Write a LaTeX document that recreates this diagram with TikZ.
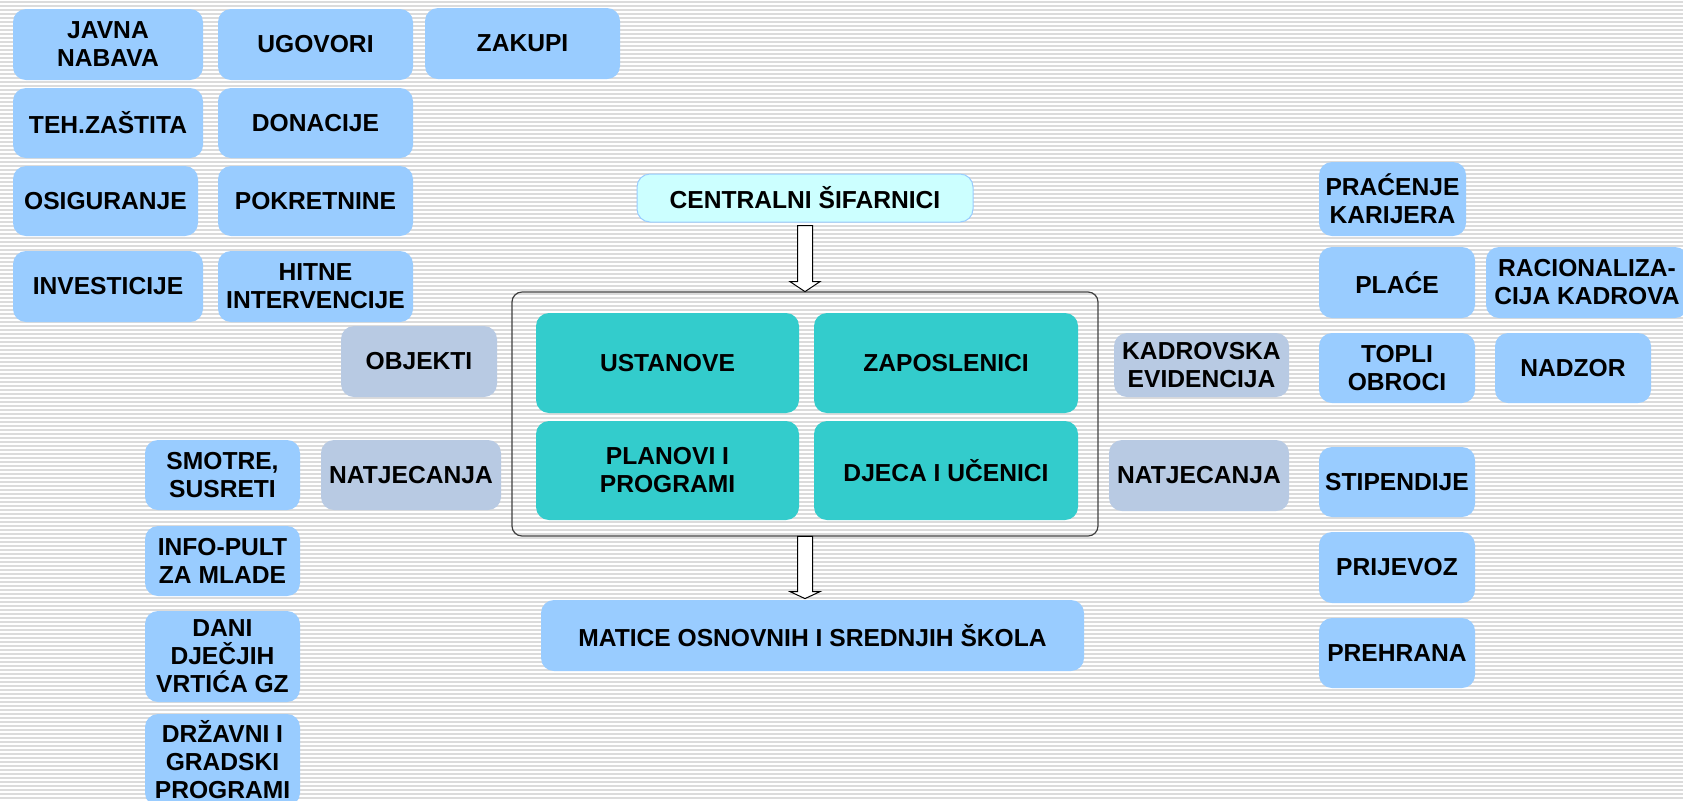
\documentclass[tikz,border=0pt]{standalone}
\usepackage{fontspec}
\setmainfont{Liberation Sans}
\usetikzlibrary{shapes,arrows}
\definecolor{plava}{HTML}{99CCFF}
\definecolor{siva}{HTML}{B8CAE3}
\definecolor{tirkiz}{HTML}{33CCCC}
\definecolor{svijetla}{HTML}{CCFFFF}
\begin{document}
\begin{tikzpicture}[x=0.5pt,y=-0.5pt,
    kut/.style={rounded corners=6.5pt, inner sep=0pt, align=center, font=\fontsize{12.3}{14}\selectfont\bfseries},
    lbox/.style={kut, fill=plava},
    gbox/.style={kut, fill=siva},
    tbox/.style={kut, fill=tirkiz},
    cbox/.style={kut, fill=svijetla, draw=plava, line width=0.5pt},
    stripe/.style={black!14, line width=0.9pt},
    blok/.style={draw=black, fill=white, line width=0.5pt, line join=miter}]
        \useasboundingbox (0,0) rectangle (1683,800);
        \fill[white] (0,0) rectangle (1683,800);
        \foreach \k in {0,...,199}
            \draw[stripe] (0,4*\k+2) -- (1683,4*\k+2);
        \node[lbox, minimum width=95pt, minimum height=35.5pt] (javna) at (108,44.5) {JAVNA\\NABAVA};
        \node[lbox, minimum width=97.5pt, minimum height=35.5pt] (ugovori) at (315.5,44.5) {UGOVORI};
        \node[lbox, minimum width=97.5pt, minimum height=35.5pt] (zakupi) at (522.5,43.5) {ZAKUPI};
        \node[lbox, minimum width=95pt, minimum height=35pt] (teh) at (108,123) {TEH.ZAŠTITA};
        \node[lbox, minimum width=97.5pt, minimum height=35pt] (donacije) at (315.5,123) {DONACIJE};
        \node[lbox, minimum width=92.5pt, minimum height=35pt] (osig) at (105.5,201) {OSIGURANJE};
        \node[lbox, minimum width=97.5pt, minimum height=35pt] (pokretnine) at (315.5,201) {POKRETNINE};
        \node[lbox, minimum width=95pt, minimum height=35.5pt] (invest) at (108,286.5) {INVESTICIJE};
        \node[lbox, minimum width=97.5pt, minimum height=35.5pt] (hitne) at (315.5,286.5) {HITNE\\INTERVENCIJE};
        \node[gbox, minimum width=78pt, minimum height=35.5pt] (objekti) at (419,361.5) {OBJEKTI};
        \node[gbox, minimum width=90pt, minimum height=35pt] (natjL) at (411,475) {NATJECANJA};
        \node[lbox, minimum width=77.5pt, minimum height=35pt] (smotre) at (222.5,475) {SMOTRE,\\SUSRETI};
        \node[lbox, minimum width=77.5pt, minimum height=35pt] (info) at (222.5,561) {INFO-PULT\\ZA MLADE};
        \node[lbox, minimum width=77.5pt, minimum height=45.5pt] (dani) at (222.5,656.5) {DANI\\DJEČJIH\\VRTIĆA GZ};
        \node[lbox, minimum width=77.5pt, minimum height=46pt] (drzavni) at (222.5,760) {DRŽAVNI I\\GRADSKI\\PROGRAMI};
        \node[cbox, minimum width=168pt, minimum height=24pt] (sif) at (805,198) {CENTRALNI ŠIFARNICI};
        \draw[black!75, line width=0.6pt, rounded corners=5pt] (512,292) rectangle (1098,536);
        \node[minimum width=293pt, minimum height=122pt, inner sep=0pt] (okvir) at (805,414) {};
        \node[tbox, minimum width=131.5pt, minimum height=50pt] (ustanove) at (667.5,363) {USTANOVE};
        \node[tbox, minimum width=132pt, minimum height=50pt] (zaposlenici) at (946,363) {ZAPOSLENICI};
        \node[tbox, minimum width=131.5pt, minimum height=49.5pt] (planovi) at (667.5,470.5) {PLANOVI I\\PROGRAMI};
        \node[tbox, minimum width=132pt, minimum height=49.5pt] (djeca) at (946,470.5) {DJECA I UČENICI};
        \node[lbox, minimum width=271.5pt, minimum height=35.5pt] (matice) at (812.5,635.5) {MATICE OSNOVNIH I SREDNJIH ŠKOLA};
        \node[gbox, minimum width=87.5pt, minimum height=32pt] (kadr) at (1201.5,365) {KADROVSKA\\EVIDENCIJA};
        \node[gbox, minimum width=90pt, minimum height=35.5pt] (natjR) at (1199,475.5) {NATJECANJA};
        \node[lbox, minimum width=73.5pt, minimum height=37pt] (pracenje) at (1392.5,199) {PRAĆENJE\\KARIJERA};
        \node[lbox, minimum width=78pt, minimum height=35.5pt] (place) at (1397,282.5) {PLAĆE};
        \node[lbox, minimum width=101pt, minimum height=35.5pt] (racio) at (1587,282.5) {RACIONALIZA-\\CIJA KADROVA};
        \node[lbox, minimum width=78pt, minimum height=35pt] (topli) at (1397,368) {TOPLI\\OBROCI};
        \node[lbox, minimum width=78pt, minimum height=35pt] (nadzor) at (1573,368) {NADZOR};
        \node[lbox, minimum width=78pt, minimum height=35pt] (stip) at (1397,482) {STIPENDIJE};
        \node[lbox, minimum width=78pt, minimum height=35.5pt] (prijevoz) at (1397,567.5) {PRIJEVOZ};
        \node[lbox, minimum width=78pt, minimum height=35pt] (prehrana) at (1397,653) {PREHRANA};
        \coordinate (a1) at (okvir.north |- sif.south);
        \coordinate (a2) at (okvir.south |- matice.north);
        \draw[blok] ([xshift=-3.75pt,yshift=-1.5pt]a1) -- ([xshift=-3.75pt,yshift=5pt]okvir.north) -- ([xshift=-7.5pt,yshift=5pt]okvir.north) -- (okvir.north) -- ([xshift=7.5pt,yshift=5pt]okvir.north) -- ([xshift=3.75pt,yshift=5pt]okvir.north) -- ([xshift=3.75pt,yshift=-1.5pt]a1) -- cycle;
        \draw[blok] ([xshift=-3.75pt]okvir.south) -- ([xshift=-3.75pt,yshift=4pt]a2) -- ([xshift=-7.5pt,yshift=4pt]a2) -- ([yshift=0.5pt]a2) -- ([xshift=7.5pt,yshift=4pt]a2) -- ([xshift=3.75pt,yshift=4pt]a2) -- ([xshift=3.75pt]okvir.south) -- cycle;
    \end{tikzpicture}
\end{document}
